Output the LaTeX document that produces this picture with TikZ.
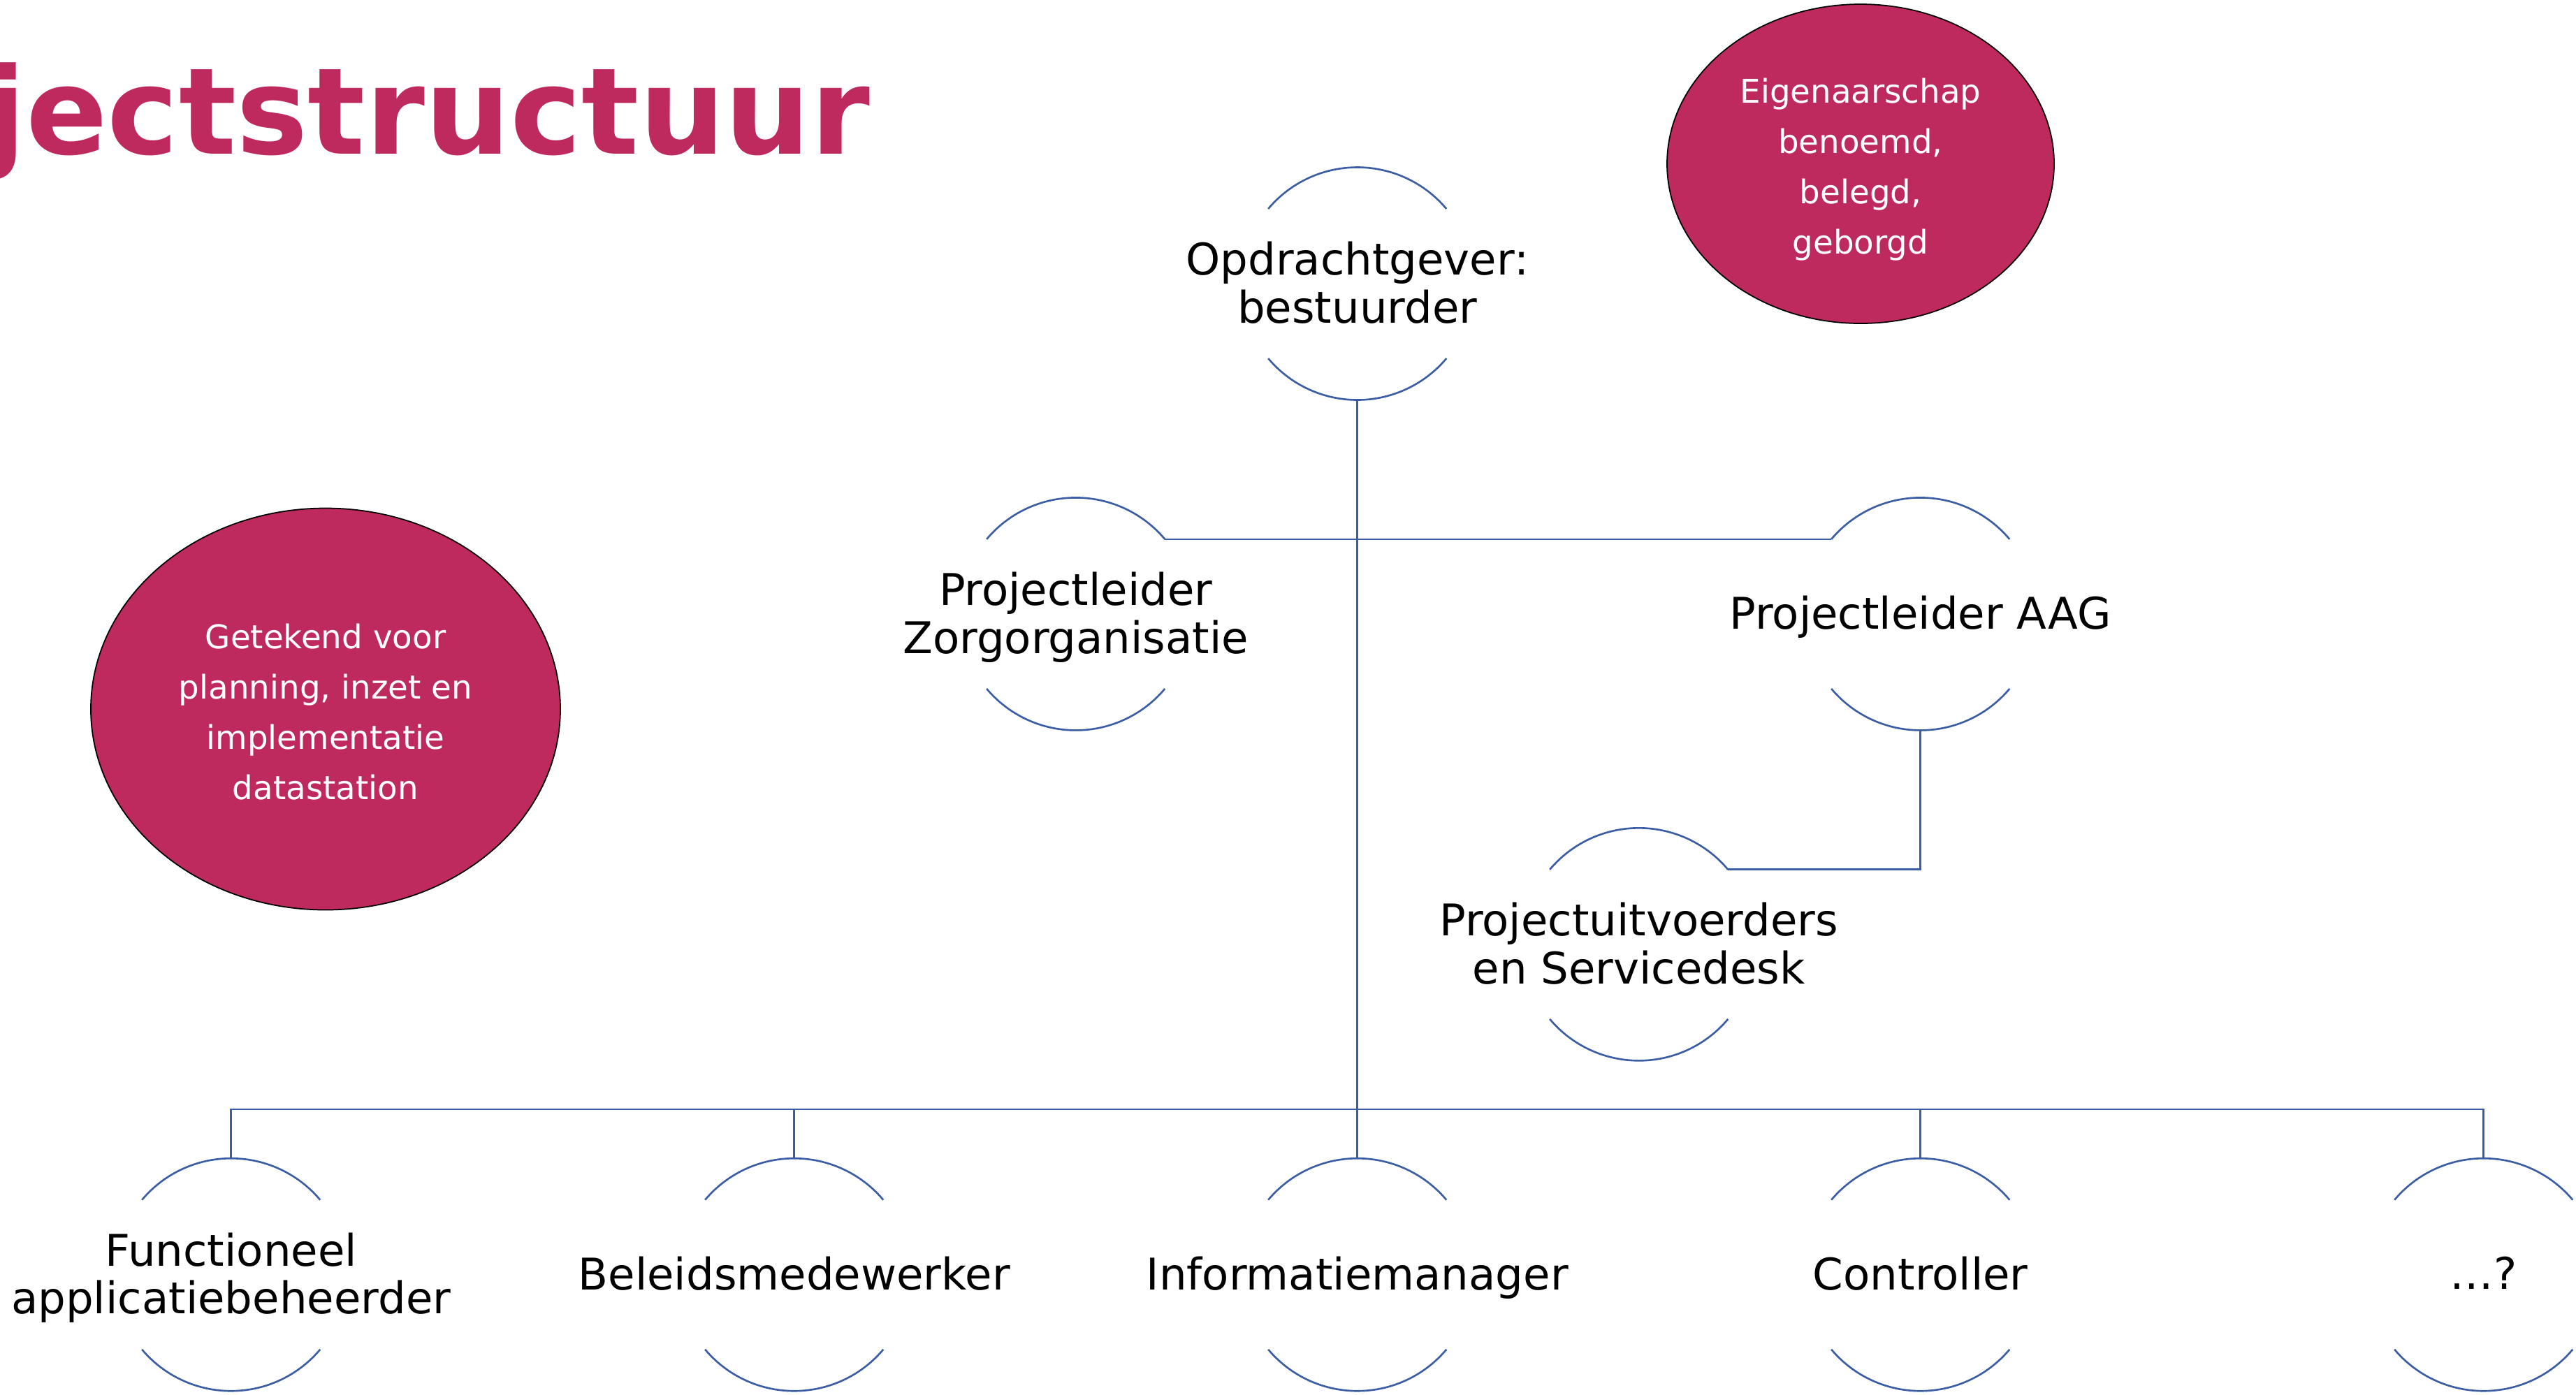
\documentclass[tikz,border=0pt]{standalone}
\usepackage{fontspec}
\setmainfont{DejaVu Sans}
\usetikzlibrary{shapes.geometric}

\definecolor{aagpink}{RGB}{190,41,94}
\definecolor{aagblue}{RGB}{59,93,164}

\tikzstyle{role} = [circle, minimum size=3.33cm, inner sep=0pt, outer sep=0pt]
\tikzstyle{rolelbl} = [align=center, inner sep=0pt, yshift=-0.055cm,
text depth=0.15cm, font=\fontsize{17.8}{19.6}\selectfont]
\tikzstyle{note} = [ellipse, draw=black, line width=0.5pt, fill=aagpink,
inner sep=0pt]
\tikzstyle{notelbl} = [text=white, align=center, inner sep=0pt, yshift=-0.09cm,
text depth=0.11cm, font=\fontsize{13.3}{20.5}\selectfont]
\tikzstyle{link} = [draw=aagblue, line width=0.75pt]

\begin{document}
\begin{tikzpicture}[node distance=4.729cm]
  \useasboundingbox (0,0) rectangle (36.87,-19.96);
  \node (title) [anchor=base east, inner sep=0pt, text=aagpink,
    font=\fontsize{49}{49}\selectfont\bfseries] at (12.46,-2.20) {jectstructuur};
  \node (opd) [role] at (19.427,-4.06) {};
  \node (plz) [role, below of=opd, xshift=-4.03cm] {};
  \node (aag) [role, below of=opd, xshift=8.06cm] {};
  \node (puv) [role, below of=aag, xshift=-4.03cm] {};
  \node (fab) [role, below of=puv, xshift=-20.15cm] {};
  \node (beleid) [role, below of=puv, xshift=-12.09cm] {};
  \node (info) [role, below of=puv, xshift=-4.03cm] {};
  \node (ctrl) [role, below of=puv, xshift=4.03cm] {};
  \node (more) [role, below of=puv, xshift=12.09cm] {};
  % labels
  \node (opdtxt) [rolelbl] at (opd) {Opdrachtgever:\\bestuurder};
  \node (plztxt) [rolelbl] at (plz) {Projectleider\\Zorgorganisatie};
  \node (aagtxt) [rolelbl] at (aag) {Projectleider AAG};
  \node (puvtxt) [rolelbl] at (puv) {Projectuitvoerders\\en Servicedesk};
  \node (fabtxt) [rolelbl] at (fab) {Functioneel\\applicatiebeheerder};
  \node (beleidtxt) [rolelbl] at (beleid) {Beleidsmedewerker};
  \node (infotxt) [rolelbl] at (info) {Informatiemanager};
  \node (ctrltxt) [rolelbl] at (ctrl) {Controller};
  \node (moretxt) [rolelbl] at (more) {…?};
  % arcs
  \foreach \n in {opd,plz,aag,puv,fab,beleid,info,ctrl,more} {
    \draw [link] (\n.40) arc (40:140:1.665cm);
    \draw [link] (\n.220) arc (220:320:1.665cm);
  }
  % connections
  \coordinate (bus) at (19.427,-15.88);
  \draw [link] (opd.south) -- (bus);
  \draw [link] (plz.40) -- (aag.140);
  \draw [link] (aag.south) |- (puv.40);
  \foreach \n in {fab,beleid,info,ctrl,more}
    \draw [link] (bus) -| (\n.north);
  % notes
  \node (owner) [note, minimum width=5.54cm, minimum height=4.57cm]
    at (26.63,-2.345) {};
  \node (ownertxt) [notelbl] at (owner) {Eigenaarschap\\benoemd,\\belegd,\\geborgd};
  \node (signed) [note, minimum width=6.72cm, minimum height=5.75cm]
    at (4.66,-10.15) {};
  \node (signedtxt) [notelbl] at (signed)
    {Getekend voor\\planning, inzet en\\implementatie\\datastation};
\end{tikzpicture}
\end{document}
